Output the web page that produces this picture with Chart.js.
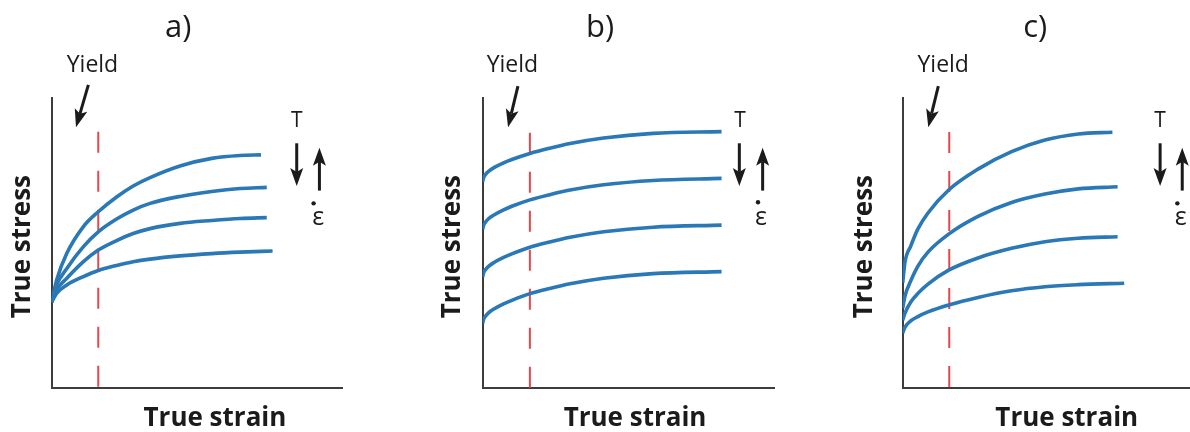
<!DOCTYPE html>
<html>
<head>
<meta charset="utf-8">
<script src="https://cdn.jsdelivr.net/npm/chart.js@4/dist/chart.umd.min.js"></script>
<style>
  html, body { margin: 0; padding: 0; background: #fff; }
  #wrap { position: relative; width: 1190px; height: 432px; overflow: hidden; background: #fff; }
  #wrap canvas { position: absolute; top: 0; }
</style>
</head>
<body>
<div id="wrap">
  <canvas id="panelA" width="410" height="432" style="left:0px"></canvas>
  <canvas id="panelB" width="420" height="432" style="left:410px"></canvas>
  <canvas id="panelC" width="360" height="432" style="left:830px"></canvas>
</div>
<script>
// Flow curves: true strain (x) against true stress (y), arbitrary units 0-10.

// a) all four curves leave the same initial stress and fan out
const aStrain = [0, 0.17, 0.52, 1.09, 1.60, 2.23, 2.80, 3.38, 4.41, 5.50, 6.47];
const aEnd = [7.19, 7.39, 7.39, 7.59];
const aStress1 = [2.96, 3.72, 4.64, 5.56, 6.07, 6.58, 6.96, 7.25, 7.65, 7.91, 8.01, 8.03];
const aStress2 = [2.96, 3.55, 4.12, 4.87, 5.38, 5.82, 6.13, 6.36, 6.60, 6.77, 6.87, 6.91];
const aStress3 = [2.96, 3.38, 3.78, 4.35, 4.75, 5.08, 5.32, 5.49, 5.67, 5.77, 5.84, 5.87];
const aStress4 = [2.96, 3.26, 3.55, 3.84, 4.05, 4.22, 4.35, 4.44, 4.55, 4.63, 4.68, 4.72];

// b) same hardening, shifted initial stress
const bStrain = [0, 0.03, 0.1, 0.2, 0.4, 0.7, 1.0, 1.62, 2.3, 3.0, 4.15, 5.85, 8.2];
const bStress1 = [7.11, 7.24, 7.36, 7.46, 7.60, 7.75, 7.87, 8.08, 8.26, 8.42, 8.61, 8.77, 8.83];
const bStress2 = [5.47, 5.60, 5.72, 5.83, 5.97, 6.13, 6.26, 6.48, 6.66, 6.82, 7.00, 7.15, 7.22];
const bStress3 = [3.83, 3.96, 4.08, 4.19, 4.33, 4.49, 4.62, 4.85, 5.03, 5.19, 5.38, 5.54, 5.61];
const bStress4 = [2.23, 2.36, 2.48, 2.59, 2.73, 2.89, 3.02, 3.25, 3.43, 3.59, 3.78, 3.94, 4.01];

// c) both initial stress and hardening change
const cStrain = [0, 0.08, 0.28, 0.53, 0.88, 1.6, 2.62, 3.79, 4.95, 6.11];
const cEnd = [7.30, 7.48, 7.48, 7.71];
const cStress1 = [3.62, 4.34, 4.89, 5.48, 6.03, 6.82, 7.54, 8.14, 8.54, 8.75, 8.81];
const cStress2 = [2.75, 3.17, 3.69, 4.20, 4.68, 5.30, 5.91, 6.39, 6.68, 6.86, 6.93];
const cStress3 = [2.34, 2.58, 2.96, 3.26, 3.58, 4.06, 4.48, 4.81, 5.04, 5.16, 5.21];
const cStress4 = [1.89, 2.10, 2.31, 2.46, 2.62, 2.86, 3.12, 3.35, 3.49, 3.56, 3.61];

// Yield strain and the height the dashed marker reaches, per panel
const yieldStrain = [1.60, 1.62, 1.62];
const yieldTop = [8.83, 8.79, 8.82];

const panelTitles = ['a)', 'b)', 'c)'];
const xTitle = 'True strain';
const yTitle = 'True stress';

const BLUE = '#2a78b6';
const RED = '#e5474d';
const AXIS = '#3d3d3d';
const INK = '#1b1b1b';
const FONT = "'Open Sans', 'DejaVu Sans', sans-serif";

function pts(xs, ys) { return ys.map((v, i) => ({ x: xs[i], y: v })); }

// Draws the panel letter, axis titles, the yield call-out and the T / strain-rate arrows
const annotate = {
  id: 'annotate',
  afterDraw(chart, args, o) {
    const { ctx } = chart;
    const sx = chart.scales.x, sy = chart.scales.y;
    const X = v => sx.getPixelForValue(v), Y = v => sy.getPixelForValue(v);

    const text = (t, x, y, font, align, base, rot) => {
      ctx.save();
      ctx.fillStyle = INK;
      ctx.font = font;
      ctx.textAlign = align || 'center';
      ctx.textBaseline = base || 'alphabetic';
      ctx.translate(X(x), Y(y));
      if (rot) ctx.rotate(rot);
      ctx.fillText(t, 0, 0);
      ctx.restore();
    };
    const arrow = (a, b) => {
      const x0 = X(a[0]), y0 = Y(a[1]), x1 = X(b[0]), y1 = Y(b[1]);
      const ang = Math.atan2(y1 - y0, x1 - x0);
      const L = Math.hypot(x1 - x0, y1 - y0);
      const head = 18, half = 6.5, notch = 4;
      ctx.save();
      ctx.translate(x1, y1);
      ctx.rotate(ang);
      ctx.strokeStyle = INK; ctx.fillStyle = INK;
      ctx.lineWidth = 3;
      ctx.beginPath(); ctx.moveTo(-L, 0); ctx.lineTo(-head + notch, 0); ctx.stroke();
      ctx.beginPath();
      ctx.moveTo(0, 0);
      ctx.lineTo(-head, -half);
      ctx.lineTo(-head + notch, 0);
      ctx.lineTo(-head, half);
      ctx.closePath();
      ctx.fill();
      ctx.restore();
    };

    text(o.title, o.titleAt[0], o.titleAt[1], '31px ' + FONT);
    text(yTitle, o.yTitleAt[0], o.yTitleAt[1], 'bold 26px ' + FONT, 'center', 'middle', -Math.PI / 2);
    text(xTitle, o.xTitleAt[0], o.xTitleAt[1], 'bold 26px ' + FONT);
    text('Yield', o.yieldAt[0], o.yieldAt[1], '23px ' + FONT);
    arrow(o.yieldArrow[0], o.yieldArrow[1]);
    text('T', o.tAt[0], o.tAt[1], '21px ' + FONT);
    arrow(o.down[0], o.down[1]);
    arrow(o.up[0], o.up[1]);
    text('\u03B5', o.epsAt[0], o.epsAt[1], '25px ' + FONT);
    ctx.save();
    ctx.fillStyle = INK;
    ctx.beginPath();
    ctx.arc(X(o.dotAt[0]), Y(o.dotAt[1]), 2.2, 0, Math.PI * 2);
    ctx.fill();
    ctx.restore();
  }
};

function curveSet(list) {
  return list.map(([xs, ys]) => ({
    data: pts(xs, ys),
    borderColor: BLUE,
    borderWidth: 3.6,
    borderCapStyle: 'butt',
    pointRadius: 0,
    fill: false,
    cubicInterpolationMode: 'monotone',
    order: 0
  }));
}

const hiddenTicks = { display: false };
const noGrid = { display: false, drawTicks: false };

function makePanel(id, idx, curves, pad, ann) {
  const datasets = curveSet(curves);
  datasets.push({
    data: [{ x: yieldStrain[idx], y: yieldTop[idx] }, { x: yieldStrain[idx], y: 0 }],
    borderColor: RED,
    borderWidth: 2,
    borderDash: [21, 18],
    pointRadius: 0,
    fill: false,
    order: 1
  });
  ann.title = panelTitles[idx];
  return new Chart(document.getElementById(id), {
    type: 'line',
    data: { datasets },
    options: {
      responsive: false,
      animation: false,
      events: [],
      layout: { padding: { left: pad[0], right: pad[1], top: 97.7, bottom: 44 } },
      plugins: { legend: { display: false }, tooltip: { enabled: false }, title: { display: false }, annotate: ann },
      scales: {
        x: {
          type: 'linear', min: 0, max: 10,
          ticks: hiddenTicks, grid: noGrid,
          border: { display: true, color: AXIS, width: 2 }
        },
        y: {
          type: 'linear', min: 0, max: 10,
          ticks: hiddenTicks, grid: noGrid,
          border: { display: true, color: AXIS, width: 2 }
        }
      }
    },
    plugins: [annotate]
  });
}

makePanel('panelA', 0,
  [[aStrain.concat(aEnd[0]), aStress1], [aStrain.concat(aEnd[1]), aStress2],
   [aStrain.concat(aEnd[2]), aStress3], [aStrain.concat(aEnd[3]), aStress4]],
  [51.7, 67.3],
  {
    titleAt: [4.35, 12.1], yTitleAt: [-1.0, 4.87], xTitleAt: [5.61, -1.31],
    yieldAt: [1.40, 10.90], yieldArrow: [[1.26, 10.44], [0.835, 8.98]],
    tAt: [8.42, 9.0], down: [[8.42, 8.43], [8.42, 6.96]], up: [[9.20, 6.80], [9.20, 8.28]],
    epsAt: [9.16, 5.61], dotAt: [9.0, 6.36]
  });

makePanel('panelB', 1,
  [[bStrain, bStress1], [bStrain, bStress2], [bStrain, bStress3], [bStrain, bStress4]],
  [72.7, 56],
  {
    titleAt: [4.03, 12.1], yTitleAt: [-1.04, 4.87], xTitleAt: [5.23, -1.31],
    yieldAt: [1.02, 10.90], yieldArrow: [[1.21, 10.40], [0.87, 8.98]],
    tAt: [8.83, 9.0], down: [[8.81, 8.43], [8.81, 6.96]], up: [[9.61, 6.80], [9.61, 8.28]],
    epsAt: [9.55, 5.61], dotAt: [9.45, 6.40]
  });

makePanel('panelC', 2,
  [[cStrain.concat(cEnd[0]), cStress1], [cStrain.concat(cEnd[1]), cStress2],
   [cStrain.concat(cEnd[2]), cStress3], [cStrain.concat(cEnd[3]), cStress4]],
  [72.7, 0],
  {
    titleAt: [4.61, 12.1], yTitleAt: [-1.31, 4.87], xTitleAt: [5.71, -1.31],
    yieldAt: [1.41, 10.90], yieldArrow: [[1.24, 10.40], [0.89, 8.98]],
    tAt: [8.96, 9.0], down: [[8.96, 8.43], [8.96, 6.96]], up: [[9.73, 6.80], [9.73, 8.28]],
    epsAt: [9.68, 5.61], dotAt: [9.56, 6.36]
  });
</script>
</body>
</html>
